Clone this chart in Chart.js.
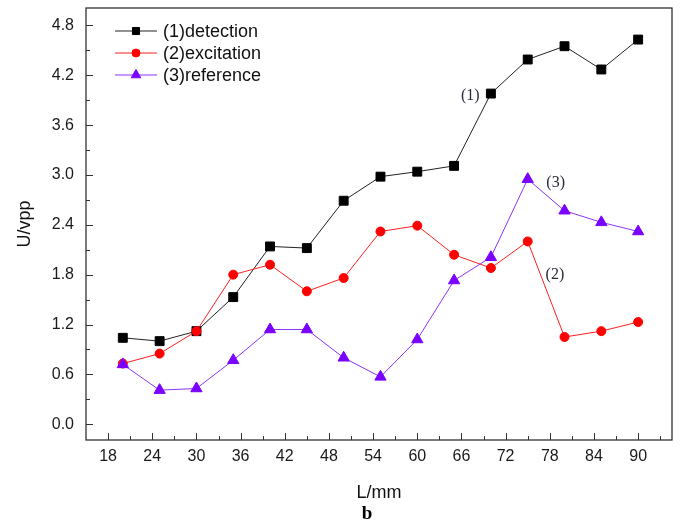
<!DOCTYPE html>
<html lang="en">
<head>
    <meta charset="UTF-8">
    <title>U/vpp vs L/mm</title>
    <script src="https://cdn.jsdelivr.net/npm/chart.js"></script>
    <style>
        body { margin: 0; background: #fff; }
        canvas { display: block; }
    </style>
    <script>
        // distance L (mm)
        const lengths = [20, 25, 30, 35, 40, 45, 50, 55, 60, 65, 70, 75, 80, 85, 90];
        // measured amplitudes U (vpp)
        const detection  = [1.04, 1.00, 1.12, 1.53, 2.14, 2.12, 2.69, 2.98, 3.04, 3.11, 3.98, 4.39, 4.55, 4.27, 4.63];
        const excitation = [0.73, 0.85, 1.12, 1.80, 1.92, 1.60, 1.76, 2.32, 2.39, 2.04, 1.88, 2.20, 1.05, 1.12, 1.23];
        const reference  = [0.72, 0.41, 0.43, 0.77, 1.14, 1.14, 0.80, 0.57, 1.02, 1.73, 2.01, 2.95, 2.57, 2.43, 2.32];

        const seriesNames = ['(1)detection', '(2)excitation', '(3)reference'];

        const xTicks = [18, 24, 30, 36, 42, 48, 54, 60, 66, 72, 78, 84, 90];
        const xMinor = [21, 27, 33, 39, 45, 51, 57, 63, 69, 75, 81, 87, 93];
        const yTicks = [0, 0.6, 1.2, 1.8, 2.4, 3.0, 3.6, 4.2, 4.8];
        const yTickLabels = ['0.0', '0.6', '1.2', '1.8', '2.4', '3.0', '3.6', '4.2', '4.8'];
        const yMinor = [0.3, 0.9, 1.5, 2.1, 2.7, 3.3, 3.9, 4.5];

        // curve labels placed next to the lines
        const noteText = ['(1)', '(2)', '(3)'];
        const noteX = [67.2, 78.7, 78.8];
        const noteY = [3.95, 1.80, 2.90];

        const tickFont = { family: 'Liberation Sans', size: 16 };

        function toPoints(ys) {
            return ys.map((y, i) => ({ x: lengths[i], y: y }));
        }

        function marker(ctx, style, r, x, y, color) {
            ctx.save();
            ctx.fillStyle = color;
            ctx.strokeStyle = color;
            ctx.lineWidth = 1;
            if (Chart.helpers && Chart.helpers.drawPoint) {
                Chart.helpers.drawPoint(ctx, { pointStyle: style, radius: r, rotation: 0, borderWidth: 1 }, x, y);
            } else {
                ctx.beginPath();
                ctx.arc(x, y, r, 0, Math.PI * 2);
                ctx.fill();
            }
            ctx.restore();
        }

        // frame, inward ticks, legend, curve labels and caption
        const decorations = {
            id: 'decorations',
            afterDraw(chart) {
                const ctx = chart.ctx;
                const a = chart.chartArea;
                const xs = chart.scales.x, ys = chart.scales.y;
                ctx.save();
                ctx.strokeStyle = '#333';
                ctx.lineWidth = 1.3;
                ctx.strokeRect(a.left, a.top, a.right - a.left, a.bottom - a.top);

                ctx.lineWidth = 1;
                ctx.beginPath();
                xTicks.forEach(v => {
                    const px = Math.round(xs.getPixelForValue(v)) + 0.5;
                    ctx.moveTo(px, a.bottom); ctx.lineTo(px, a.bottom - 7);
                });
                xMinor.forEach(v => {
                    const px = Math.round(xs.getPixelForValue(v)) + 0.5;
                    ctx.moveTo(px, a.bottom); ctx.lineTo(px, a.bottom - 4);
                });
                yTicks.forEach(v => {
                    const py = Math.round(ys.getPixelForValue(v)) + 0.5;
                    ctx.moveTo(a.left, py); ctx.lineTo(a.left + 7, py);
                });
                yMinor.forEach(v => {
                    const py = Math.round(ys.getPixelForValue(v)) + 0.5;
                    ctx.moveTo(a.left, py); ctx.lineTo(a.left + 4, py);
                });
                ctx.stroke();

                // legend
                const rowY = [31, 53, 75];
                const legendSize = [5, 4, 5.5];
                chart.data.datasets.forEach((ds, i) => {
                    const y = rowY[i];
                    ctx.strokeStyle = ds.borderColor;
                    ctx.lineWidth = 1.2;
                    ctx.beginPath();
                    ctx.moveTo(115, y); ctx.lineTo(157, y);
                    ctx.stroke();
                    marker(ctx, ds.pointStyle, legendSize[i], 136, y, ds.pointBackgroundColor);
                    ctx.fillStyle = '#111';
                    ctx.font = '18px "Liberation Sans"';
                    ctx.textBaseline = 'middle';
                    ctx.textAlign = 'left';
                    ctx.fillText(ds.label, 163, y + 1);
                });

                // curve labels
                ctx.fillStyle = '#2a2a3a';
                ctx.font = '16px "Liberation Serif"';
                ctx.textAlign = 'center';
                ctx.textBaseline = 'middle';
                noteText.forEach((t, i) => {
                    ctx.fillText(t, xs.getPixelForValue(noteX[i]), ys.getPixelForValue(noteY[i]));
                });

                // figure caption
                ctx.fillStyle = '#000';
                ctx.font = 'bold 19px "Liberation Serif"';
                ctx.fillText('b', 367, 514);
                ctx.restore();
            }
        };

        window.onload = function() {
            const ctx = document.getElementById('Chart').getContext('2d');
            new Chart(ctx, {
                type: 'line',
                data: {
                    datasets: [
                        {
                            label: seriesNames[0],
                            data: toPoints(detection),
                            borderColor: '#222',
                            borderWidth: 1,
                            pointStyle: 'rect',
                            pointRadius: 6.3,
                            pointBackgroundColor: '#000',
                            pointBorderColor: '#000',
                            pointBorderWidth: 1,
                            order: 2
                        },
                        {
                            label: seriesNames[1],
                            data: toPoints(excitation),
                            borderColor: '#ff2020',
                            borderWidth: 1,
                            pointStyle: 'circle',
                            pointRadius: 4.5,
                            pointBackgroundColor: '#ff0000',
                            pointBorderColor: '#ff0000',
                            pointBorderWidth: 1,
                            order: 1
                        },
                        {
                            label: seriesNames[2],
                            data: toPoints(reference),
                            borderColor: '#8c33ff',
                            borderWidth: 1,
                            pointStyle: 'triangle',
                            pointRadius: 6.5,
                            pointBackgroundColor: '#7a00ff',
                            pointBorderColor: '#7a00ff',
                            pointBorderWidth: 1,
                            order: 0
                        }
                    ]
                },
                options: {
                    responsive: false,
                    animation: false,
                    layout: { padding: { top: 8, right: 9, left: 0, bottom: 22 } },
                    plugins: {
                        legend: { display: false },
                        tooltip: { enabled: false }
                    },
                    scales: {
                        x: {
                            type: 'linear',
                            min: 15,
                            max: 94.6,
                            grid: { display: false, drawTicks: false },
                            border: { display: false },
                            afterBuildTicks: s => { s.ticks = xTicks.map(v => ({ value: v })); },
                            afterFit: s => { s.height = 64; s.paddingLeft = 0; s.paddingRight = 0; },
                            ticks: { color: '#1a1a1a', font: tickFont, padding: 7, maxRotation: 0 },
                            title: {
                                display: true,
                                text: 'L/mm',
                                color: '#111',
                                font: { family: 'Liberation Sans', size: 18 },
                                padding: { top: 0, bottom: 0 }
                            }
                        },
                        y: {
                            min: -0.19,
                            max: 5.01,
                            grid: { display: false, drawTicks: false },
                            border: { display: false },
                            afterBuildTicks: s => { s.ticks = yTicks.map(v => ({ value: v })); },
                            afterFit: s => { s.width = 86; s.paddingTop = 0; s.paddingBottom = 0; },
                            ticks: {
                                color: '#1a1a1a',
                                font: tickFont,
                                padding: 12,
                                callback: (v, i) => yTickLabels[i]
                            },
                            title: {
                                display: true,
                                text: 'U/vpp',
                                color: '#111',
                                font: { family: 'Liberation Sans', size: 18 },
                                padding: { top: 14, bottom: 0 }
                            }
                        }
                    }
                },
                plugins: [decorations]
            });
        };
    </script>
</head>
<body>
    <canvas id="Chart" width="681" height="526"></canvas>
</body>
</html>
